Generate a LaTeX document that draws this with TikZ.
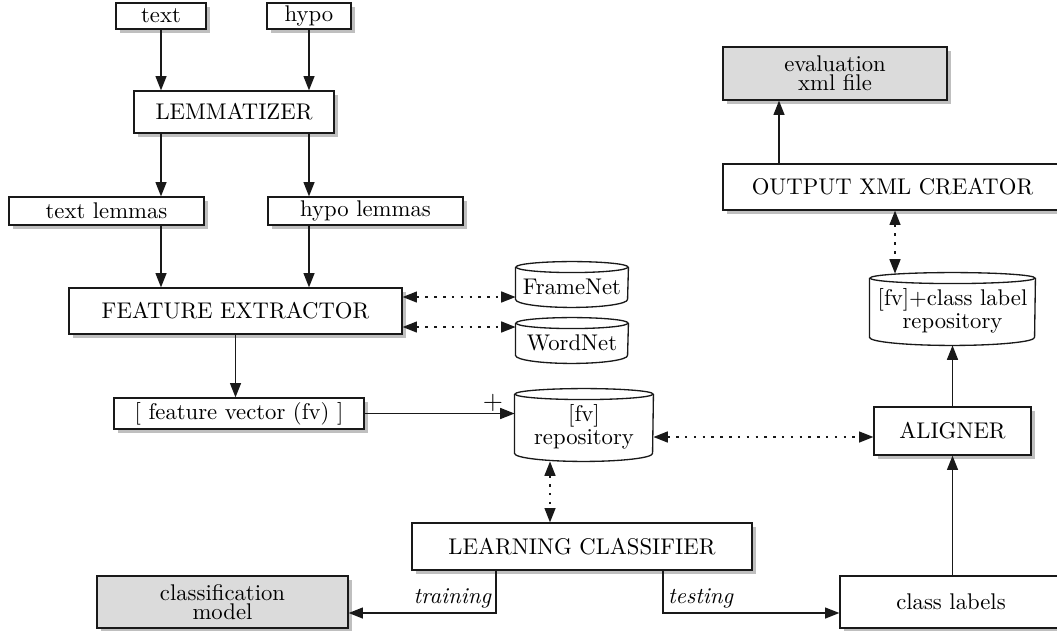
\documentclass[tikz,border=0pt]{standalone}
\usetikzlibrary{arrows.meta,shadows,calc}
\newcommand\pxu{0.454pt}
\newcommand\cyl[2]{%
  \draw[ln] ([yshift=-5.5*\pxu]#1.north west) -- ([yshift=8*\pxu]#1.south west)
     arc[start angle=180, end angle=360, x radius=#2*\pxu, y radius=8*\pxu]
     -- ([yshift=-5.5*\pxu]#1.north east);
  \draw[ln] ([yshift=-5.5*\pxu]#1.north) ellipse[x radius=#2*\pxu, y radius=5.5*\pxu];
}
\tikzset{
  ln/.style={draw=black!90, line width=0.6pt},
  sz/.style 2 args={minimum width=#1*\pxu, minimum height=#2*\pxu},
  bx/.style={ln, fill=white, inner sep=0pt, align=center,
    font=\fontsize{10.3}{8.8}\selectfont,
    drop shadow={shadow xshift=1.6pt, shadow yshift=-1.6pt, fill=black!25, opacity=1}},
  gbx/.style={bx, fill=black!14},
  db/.style={inner sep=0pt, align=center, font=\fontsize{10.3}{8.8}\selectfont},
  tip/.tip={Triangle[length=6.5pt,width=5pt]},
  arr/.style={ln, -tip},
  darr/.style={ln, dash pattern=on 1.1pt off 2.9pt, tip-tip},
}
\begin{document}
\begin{tikzpicture}[x=0.454pt, y=-0.454pt]
\path[use as bounding box, clip] (0,0) rectangle (1057,631);
% boxes
\node[bx, sz={90}{26}] (txt) at (161,16) {text};
\node[bx, sz={84}{26}] (hyp) at (309,16) {hypo};
\node[bx, sz={200}{42}] (lem) at (234,112) {LEMMATIZER};
\node[bx, sz={195}{28}] (tl) at (106.5,211) {text lemmas};
\node[bx, sz={195}{28}] (hl) at (365.5,211) {hypo lemmas};
\node[bx, sz={333}{46}] (fe) at (235.5,311) {FEATURE EXTRACTOR};
\node[bx, sz={250}{31}] (fv) at (239,413.5) {[ feature vector (fv) ]};
\node[bx, sz={340}{47}] (lc) at (582,546.5) {LEARNING CLASSIFIER};
\node[gbx, sz={251}{52}] (cm) at (222.5,602) {classification\\model};
\node[bx, sz={222}{52}] (cl) at (951,602) {class labels};
\node[bx, sz={157}{48}] (al) at (952.5,431) {ALIGNER};
\node[bx, sz={339}{46}] (ox) at (892.5,187) {OUTPUT XML CREATOR};
\node[gbx, sz={224}{53}] (ev) at (835,73.5) {evaluation\\xml file};
% cylinders
\node[db, sz={112}{45}] (fn) at (572,284.5) {};
\cyl{fn}{56}
\node[db] (fnt) at ([yshift=-2*\pxu]fn.center) {FrameNet};
\node[db, sz={112}{45}] (wn) at (572,340.5) {};
\cyl{wn}{56}
\node[db] (wnt) at ([yshift=-2*\pxu]wn.center) {WordNet};
\node[db, sz={138}{72}] (repo) at (584,425) {};
\cyl{repo}{69}
\node[db] (repot) at ([yshift=-2*\pxu]repo.center) {[fv]\\repository};
\node[db, sz={165}{72}] (rc) at (952.5,309) {};
\cyl{rc}{82.5}
\node[db] (rct) at ([yshift=-2*\pxu]rc.center) {[fv]+class label\\repository};
% connectors
\draw[arr] (txt.south) -- (txt.south |- lem.north);
\draw[arr] (hyp.south) -- (hyp.south |- lem.north);
\draw[arr] (lem.south -| txt.south) -- (tl.north -| txt.south);
\draw[arr] (lem.south -| hyp.south) -- (hl.north -| hyp.south);
\draw[arr] (tl.south -| txt.south) -- (fe.north -| txt.south);
\draw[arr] (hl.south -| hyp.south) -- (fe.north -| hyp.south);
\draw[arr] (fe.south) -- (fe.south |- fv.north);
\draw[darr] ([yshift=14*\pxu]fe.east) -- ([yshift=14*\pxu]fe.east -| fn.west);
\draw[darr] ([yshift=-16*\pxu]fe.east) -- ([yshift=-16*\pxu]fe.east -| wn.west);
\draw[arr] (fv.east) -- (fv.east -| repo.west) node[pos=1, above left, inner sep=0.5pt, xshift=-4.5pt, font=\large] (plus) {$+$};
\draw[darr] ([xshift=-34*\pxu]repo.south) -- ([xshift=-34*\pxu]repo.south |- lc.north);
\draw[darr] ([yshift=-6*\pxu]al.west -| repo.east) -- ([yshift=-6*\pxu]al.west);
\draw[arr] ([xshift=-86*\pxu]lc.south) |- ([yshift=-11*\pxu]cm.east)
  node[pos=0.5, above left, inner sep=2pt, font=\fontsize{10.3}{12}\itshape] (trn) {training};
\draw[arr] ([xshift=81*\pxu]lc.south) |- ([yshift=-11*\pxu]cl.west)
  node[pos=0.5, above right, inner sep=2pt, font=\fontsize{10.3}{12}\itshape] (tst) {testing};
\draw[arr] (cl.north -| al.south) -- (al.south);
\draw[arr] (al.north) -- (rc.south);
\draw[darr] ([xshift=2.5*\pxu]ox.south) -- ([xshift=2.5*\pxu,yshift=-1*\pxu]rc.north -| ox.south);
\draw[arr] ([xshift=-113.5*\pxu]ox.north) -- ([xshift=-113.5*\pxu]ox.north |- ev.south);
\end{tikzpicture}
\end{document}
